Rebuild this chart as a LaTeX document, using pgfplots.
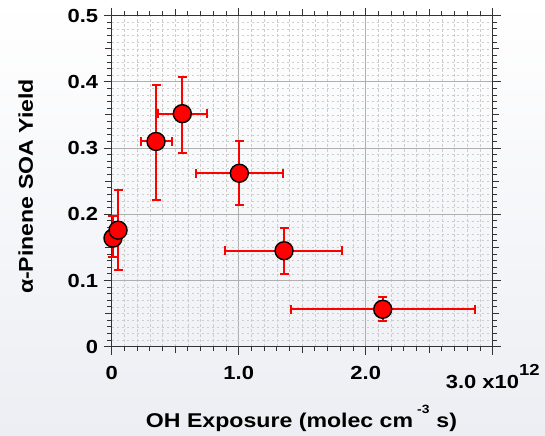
\documentclass[border=0pt]{standalone}
\usepackage{pgfplots}
\pgfplotsset{compat=1.18}
\usepackage{pgfplotstable}
\usepackage{fontspec}
\setmainfont{Liberation Sans}[FakeStretch=1.16]
\definecolor{bgc}{RGB}{236,238,243}
\definecolor{gmaj}{RGB}{175,175,175}
\definecolor{gmin}{RGB}{205,205,205}

% x y x-err-minus x-err-plus y-err-minus y-err-plus
\pgfplotstableread{
x y exm exp eym eyp
0.349 0.310 0.118 0.128 0.088 0.086
0.556 0.352 0.189 0.197 0.059 0.056
1.005 0.262 0.341 0.341 0.048 0.048
1.357 0.145 0.465 0.459 0.035 0.035
2.134 0.0565 0.722 0.727 0.0175 0.018
}\xydata

\pgfplotstableread{
x y eym eyp
0.01 0.164 0.029 0.033
0.05 0.176 0.060 0.060
}\ydata

\begin{document}
\begin{tikzpicture}[x=1bp,y=1bp]
\shade[top color=white,bottom color=bgc] (0,0) rectangle (545,436);
\begin{axis}[
  at={(111.7bp,89.3bp)}, anchor=south west,
  scale only axis, width=381bp, height=331bp,
  xmin=0, xmax=3, ymin=0, ymax=0.5,
  axis line style={line width=1.2bp, black!80},
  tick align=outside,
  xtick={0,1,2,3}, xticklabels={0,1.0,2.0,{}},
  ytick={0,0.1,0.2,0.3,0.4,0.5}, yticklabels={0,0.1,0.2,0.3,0.4,0.5},
  minor x tick num=9, minor y tick num=9,
  grid=both,
  major grid style={gmaj, line width=0.8bp},
  minor grid style={gmin, line width=0.55bp, dash pattern=on 2.5bp off 2.5bp},
  major tick length=8bp, minor tick length=4.5bp,
  tick style={black!80, line width=1bp},
  /pgf/number format/assume math mode=true,
  ticklabel style={font=\bfseries\fontsize{19}{19}\selectfont},
  xticklabel style={yshift=-8bp},
  yticklabel style={xshift=-2bp},
  extra x ticks={0.5,1.5,2.5}, extra x tick labels={},
  extra x tick style={grid=none, major tick length=6.5bp},
  extra y ticks={0.05,0.15,0.25,0.35,0.45}, extra y tick labels={},
  extra y tick style={grid=none, major tick length=6.5bp},
  clip=false,
]
\addplot[only marks, mark=*, mark options={draw=none, fill=none}, forget plot,
  error bars/.cd, x dir=both, x explicit, y dir=both, y explicit,
  error bar style={red, line width=2bp},
  error mark options={rotate=90, red, draw=red, fill=red, mark size=4.5bp, line width=2bp}]
  table[x=x, y=y, x error plus=exp, x error minus=exm, y error plus=eyp, y error minus=eym] {\xydata};
\addplot[only marks, mark=*, mark options={draw=none, fill=none}, forget plot,
  error bars/.cd, y dir=both, y explicit,
  error bar style={red, line width=2bp},
  error mark options={rotate=90, red, draw=red, fill=red, mark size=4.5bp, line width=2bp}]
  table[x=x, y=y, y error plus=eyp, y error minus=eym] {\ydata};
\addplot[only marks, mark=*, mark size=9bp,
  mark options={fill=red, draw=black, line width=1.4bp}]
  table[x=x, y=y] {\ydata};
\addplot[only marks, mark=*, mark size=9bp,
  mark options={fill=red, draw=black, line width=1.4bp}]
  table[x=x, y=y] {\xydata};
\end{axis}
\node[rotate=90, font=\bfseries\fontsize{20}{20}\selectfont] at (25.8,249.5) {α-Pinene SOA Yield};
\node[anchor=base, font=\bfseries\fontsize{20}{20}\selectfont] at (301.5,8.3)
  {OH Exposure (molec cm\hspace{4bp}\raisebox{14bp}{\fontsize{12}{12}\selectfont -3}\hspace{7bp}s)};
\node[anchor=base, font=\bfseries\fontsize{19}{19}\selectfont] at (492.7,47.7)
  {3.0 x10\raisebox{13bp}{\fontsize{16}{16}\selectfont 12}};
\end{tikzpicture}
\end{document}
